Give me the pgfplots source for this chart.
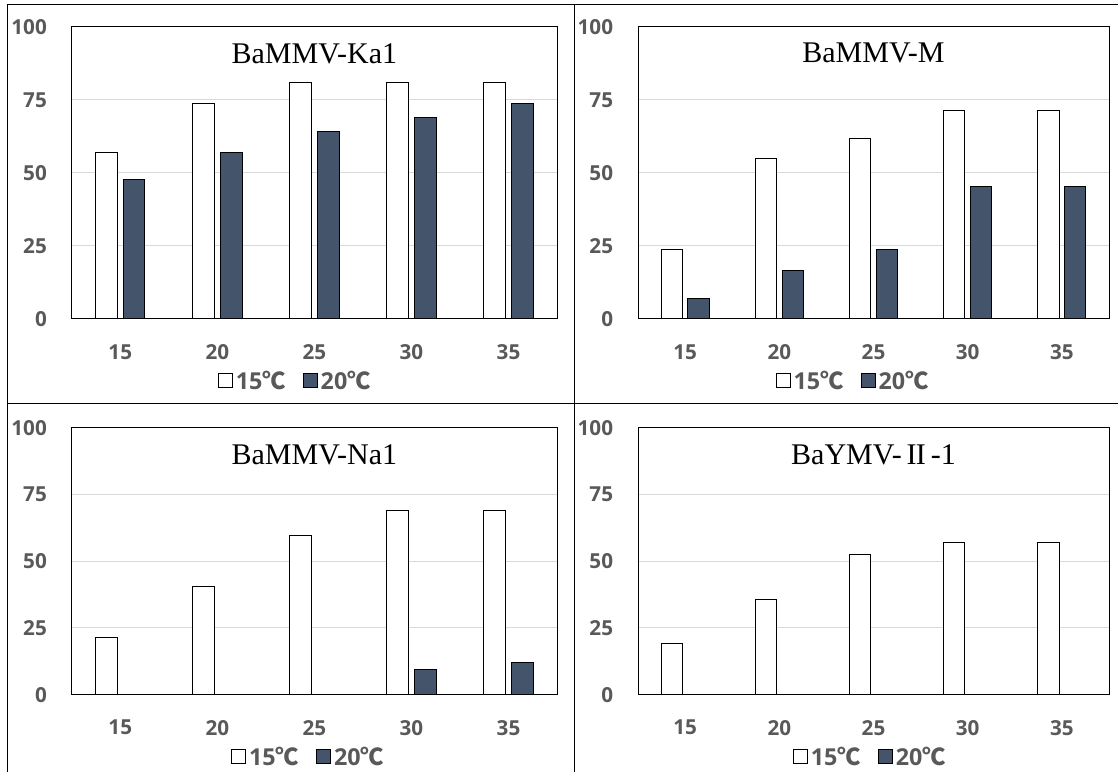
\documentclass[border=0pt]{standalone}
\usepackage{pgfplots}
\pgfplotsset{compat=1.18}
\usepackage{fontspec}
\setmainfont{Open Sans}
\newfontfamily\cjk{Noto Sans CJK JP}
\newfontfamily\titlefont{Liberation Serif}
\definecolor{barblue}{HTML}{44546A}
\definecolor{tickgray}{HTML}{595959}
\definecolor{gridgray}{HTML}{D9D9D9}
\newcommand{\degc}{{\cjk ℃}}
\newcommand{\legfont}{\bfseries\fontsize{17.5}{18}\selectfont}

\tikzset{ttl/.style={font=\titlefont\fontsize{22.5}{24}\selectfont, anchor=center, yshift=-20pt}}
\pgfplotsset{
  panel/.style={
    scale only axis,
    ybar, bar width=0.225,
    xmin=-0.5, xmax=4.5, ymin=0, ymax=100,
    xtick={0,1,2,3,4}, xticklabels={15,20,25,30,35},
    ytick={0,25,50,75,100},
    major tick length=0pt,
    ymajorgrids, grid style={gridgray, line width=0.75pt},
    axis line style={black, line width=0.75pt},
    /pgf/number format/assume math mode=true,
    tick label style={font=\bfseries\fontsize{15.5}{16}\selectfont, text=tickgray},
    yticklabel style={anchor=east, inner sep=0pt, xshift=-18.5pt},
    xticklabel style={anchor=center, inner sep=0pt, yshift=-24.75pt},
    legend columns=2,
    legend style={draw=none, fill=none, text=tickgray, anchor=center,
      /tikz/every odd column/.append style={column sep=0pt},
      /tikz/every even column/.append style={column sep=11pt}},
    legend image code/.code={\draw[##1, line width=0.75pt] (0pt,-5.25pt) rectangle (10.5pt,5.25pt);},
    clip=false,
  },
  s15/.style={draw=black, fill=white, line width=0.75pt, bar shift=-0.142},
  s20/.style={draw=black, fill=barblue, line width=0.75pt, bar shift=0.142},
}

\begin{document}
\begin{tikzpicture}
\useasboundingbox (0,0) rectangle (838.5pt,579pt);
\draw[line width=0.75pt] (5.25pt,0) -- (5.25pt,575.25pt) -- (838.5pt,575.25pt);
\draw[line width=0.75pt] (430.5pt,0) -- (430.5pt,575.25pt);
\draw[line width=0.75pt] (5.25pt,276pt) -- (838.5pt,276pt);

% Top-left: BaMMV-Ka1
\begin{axis}[panel, at={(53.8pt,339.75pt)}, anchor=south west, width=364pt, height=219.2pt,
  legend style={at={(0.5,-0.212)}, xshift=-14pt}]
\addplot[s15] coordinates {(0,57.1) (1,73.8) (2,81.0) (3,81.0) (4,81.0)};
\addplot[s20] coordinates {(0,47.6) (1,57.1) (2,64.3) (3,69.0) (4,73.8)};
\legend{\legfont 15\degc, \legfont 20\degc}
\node[ttl] at (rel axis cs:0.5,1) {BaMMV-Ka1};
\end{axis}

% Top-right: BaMMV-M
\begin{axis}[panel, at={(478.5pt,339.75pt)}, anchor=south west, width=353.25pt, height=219.2pt,
  legend style={at={(0.5,-0.212)}, xshift=-15pt}]
\addplot[s15] coordinates {(0,23.8) (1,54.8) (2,61.9) (3,71.4) (4,71.4)};
\addplot[s20] coordinates {(0,7.1) (1,16.7) (2,23.8) (3,45.2) (4,45.2)};
\legend{\legfont 15\degc, \legfont 20\degc}
\node[ttl] at (rel axis cs:0.5,1) {BaMMV-M};
\end{axis}

% Bottom-left: BaMMV-Na1
\begin{axis}[panel, at={(53.8pt,58pt)}, anchor=south west, width=364pt, height=200.25pt,
  legend style={at={(0.5,-0.233)}, xshift=-4pt}]
\addplot[s15] coordinates {(0,21.4) (1,40.5) (2,59.5) (3,69.0) (4,69.0)};
\addplot[s20] coordinates {(0,0) (1,0) (2,0) (3,9.5) (4,11.9)};
\legend{\legfont 15\degc, \legfont 20\degc}
\node[ttl] at (rel axis cs:0.5,1) {BaMMV-Na1};
\end{axis}

% Bottom-right: BaYMV-II-1
\begin{axis}[panel, at={(478.5pt,58pt)}, anchor=south west, width=353.25pt, height=200.25pt,
  legend style={at={(0.5,-0.233)}, xshift=-2pt}]
\addplot[s15] coordinates {(0,19.0) (1,35.7) (2,52.4) (3,57.1) (4,57.1)};
\addplot[s20] coordinates {(0,0) (1,0) (2,0) (3,0) (4,0)};
\legend{\legfont 15\degc, \legfont 20\degc}
\node[ttl] at (rel axis cs:0.5,1) {BaYMV-\thinspace I\kern-0.03em I\thinspace -1};
\end{axis}
\end{tikzpicture}
\end{document}
